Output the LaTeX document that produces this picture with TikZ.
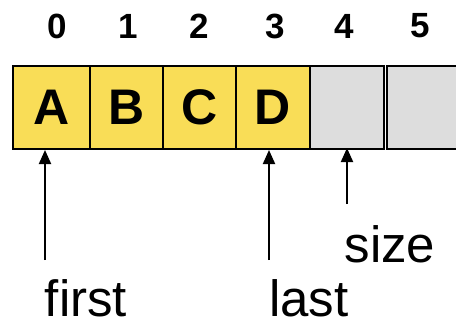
\documentclass[tikz,border=0pt]{standalone}
\usepackage{fontspec}
\setmainfont{Liberation Sans}
\usetikzlibrary{arrows.meta}
\definecolor{cellyellow}{HTML}{F9DD57}
\definecolor{cellgray}{HTML}{DDDDDD}
\begin{document}
\begin{tikzpicture}[x=1pt,y=-1pt,
  cell/.style={draw=black,line width=2pt,minimum width=74pt,minimum height=83pt,inner sep=0pt,anchor=north west,font=\fontsize{50}{50}\selectfont\bfseries},
  full/.style={cell,fill=cellyellow},
  empty/.style={cell,fill=cellgray},
  idx/.style={font=\fontsize{35}{35}\selectfont\bfseries,inner sep=0pt},
  lbl/.style={font=\fontsize{51}{51}\selectfont,inner sep=0pt,anchor=base},
  ptr/.style={line width=2pt,-{Triangle[width=12pt,length=14pt]}}]
\useasboundingbox (0,0) rectangle (456,325);
\clip (0,0) rectangle (456,325);
\node[empty] (c4) at (309,65) {};
\node[empty] (c5) at (386,65) {};
\node[full,minimum width=77pt] (c0) at (12,65) {A};
\node[full,minimum width=73pt] (c1) at (89,65) {B};
\node[full,minimum width=73pt] (c2) at (162,65) {C};
\node[full] (c3) at (235,65) {D};
\node[idx] (i0) at (57,26) {0};
\node[idx] (i1) at (128,26) {1};
\node[idx] (i2) at (199,26) {2};
\node[idx] (i3) at (275,26) {3};
\node[idx] (i4) at (344,26) {4};
\node[idx] (i5) at (420,26) {5};
\coordinate (f0) at (45,260);
\coordinate (l0) at (269,260);
\coordinate (s0) at (347,204);
\draw[ptr] (f0) -- (f0 |- c0.south);
\draw[ptr] (l0) -- (l0 |- c3.south);
\draw[ptr] (s0) -- ([yshift=2pt]s0 |- c4.south);
\node[lbl] (first) at (86,316) {first};
\node[lbl] (last) at (309,316) {last};
\node[lbl] (size) at (390,262) {size};
\end{tikzpicture}
\end{document}
